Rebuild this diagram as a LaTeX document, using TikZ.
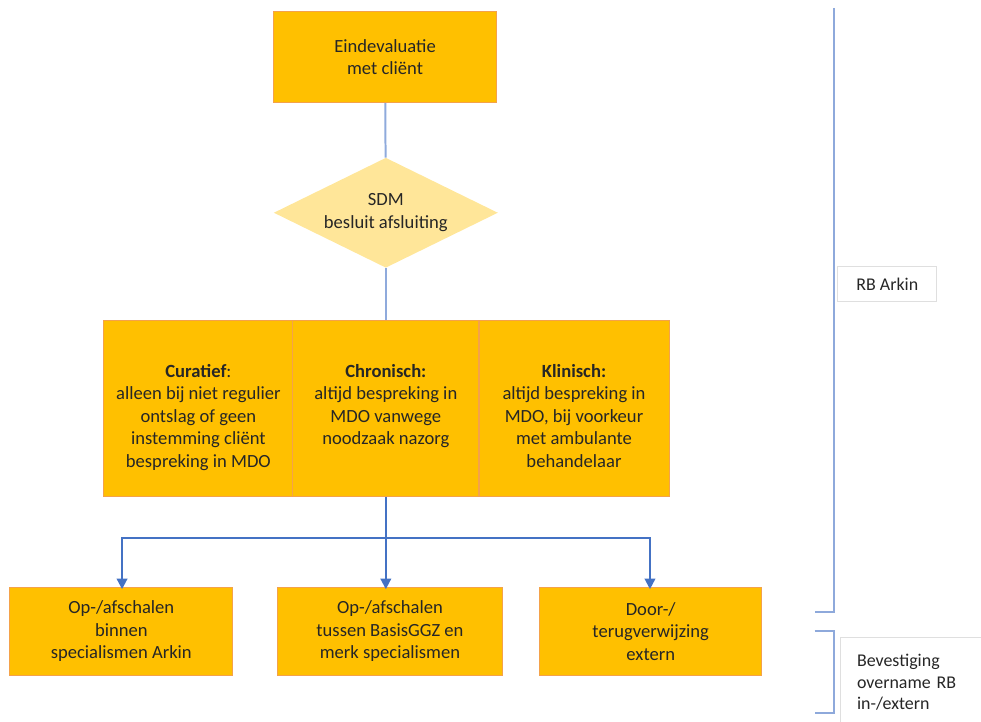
\documentclass[tikz,border=0pt]{standalone}
\usepackage{fontspec}
\setmainfont{Carlito}
\usepackage{xcolor}
\usetikzlibrary{arrows.meta,shapes.geometric,positioning}
\definecolor{boxfill}{HTML}{FFC000}
\definecolor{boxline}{HTML}{F4A24A}
\definecolor{keuzefill}{HTML}{FFE699}
\definecolor{stamlijn}{HTML}{8FAADC}
\definecolor{pijl}{HTML}{4472C4}
\definecolor{haak}{HTML}{8EA9DB}

\begin{document}
\begin{tikzpicture}[
    every node/.style={font=\fontsize{14}{17}\selectfont, text=black!85},
    stap/.style={rectangle, draw=boxline, fill=boxfill, line width=0.8pt,
        inner sep=0pt},
    keuze/.style={diamond, draw=none, fill=keuzefill, aspect=2,
        inner sep=0pt, minimum width=5.93cm, minimum height=2.91cm},
    txt/.style={align=center, inner sep=0pt},
    stam/.style={draw=stamlijn, line width=1.5pt},
    tak/.style={draw=pijl, line width=1.5pt,
        -{Triangle[width=8pt,length=8pt]}},
    haakje/.style={draw=haak, line width=1.5pt},
    kader/.style={draw=gray!25, fill=white, line width=0.5pt,
        font=\fontsize{13.5}{16}\selectfont}
]
\useasboundingbox (0,0) rectangle (25.96,19.10);
% start en keuze
\node[stap, align=center, minimum width=5.90cm, minimum height=2.41cm]
    (eind) at (10.19,17.59) {Eindevaluatie\\met cliënt};
\node[keuze, align=center] (sdm) at (10.21,13.47) {SDM\\besluit afsluiting};
% drie typen
\node[stap, minimum width=5.00cm, minimum height=4.66cm]
    (cur) at (5.25,8.28) {};
\node[stap, minimum width=4.92cm, minimum height=4.66cm]
    (chr) at (10.21,8.28) {};
\node[stap, minimum width=5.03cm, minimum height=4.66cm]
    (kli) at (15.19,8.28) {};
\node[txt, anchor=north] (curtxt) at ([yshift=-1.15cm]cur.north)
    {\textbf{Curatief}:\\alleen bij niet regulier\\ontslag of geen\\instemming cliënt\\bespreking in MDO};
\node[txt, anchor=north] (chrtxt) at ([yshift=-1.15cm]chr.north)
    {\textbf{Chronisch:}\\altijd bespreking in\\MDO vanwege\\noodzaak nazorg};
\node[txt, anchor=north] (klitxt) at ([yshift=-1.15cm]kli.north)
    {\textbf{Klinisch:}\\altijd bespreking in\\MDO, bij voorkeur\\met ambulante\\behandelaar};
% vervolg
\node[stap, align=center, minimum width=5.90cm, minimum height=2.35cm]
    (b1) at (3.21,2.39) {Op-/afschalen\\binnen\\specialismen Arkin};
\node[stap, align=center, minimum width=5.93cm, minimum height=2.35cm]
    (b2) at (10.32,2.39) {Op-/afschalen\\tussen BasisGGZ en\\merk specialismen};
\node[stap, align=center, minimum width=5.87cm, minimum height=2.35cm]
    (b3) at (17.22,2.39) {Door-/\\terugverwijzing\\extern};
\draw[stam] (eind) -- (sdm);
\draw[stam] (sdm) -- (sdm |- chr.north);
\coordinate (split) at (10.21,4.87);
\coordinate (links) at (3.23,4.87);
\coordinate (rechts) at (17.20,4.87);
\draw[tak] (chr.south) -- ([yshift=-2pt]chr.south |- b2.north);
\draw[tak] (split) -- (links) -- ([yshift=-2pt]links |- b1.north);
\draw[tak] (split) -- (rechts) -- ([yshift=-2pt]rechts |- b3.north);
% haken rechts
\coordinate (h1a) at (22.07,18.89);
\coordinate (h1b) at (22.07,2.91);
\coordinate (h2a) at (22.07,2.41);
\coordinate (h2b) at (22.07,0.24);
\draw[haakje] (h1a) -- (h1b) -- ++(-0.51,0);
\draw[haakje] ([xshift=-0.51cm]h2a) -- (h2a) -- (h2b) -- ++(-0.51,0);
\node[kader, minimum width=2.62cm, minimum height=0.95cm]
    (rb) at (23.48,11.59) {RB Arkin};
\node[kader, anchor=north west, align=left, text width=3.4cm,
    inner xsep=0.45cm, inner ysep=0.3cm, minimum height=2.4cm]
    (bev) at (22.22,2.25) {Bevestiging\\overname RB\\in-/extern};
\end{tikzpicture}
\end{document}
